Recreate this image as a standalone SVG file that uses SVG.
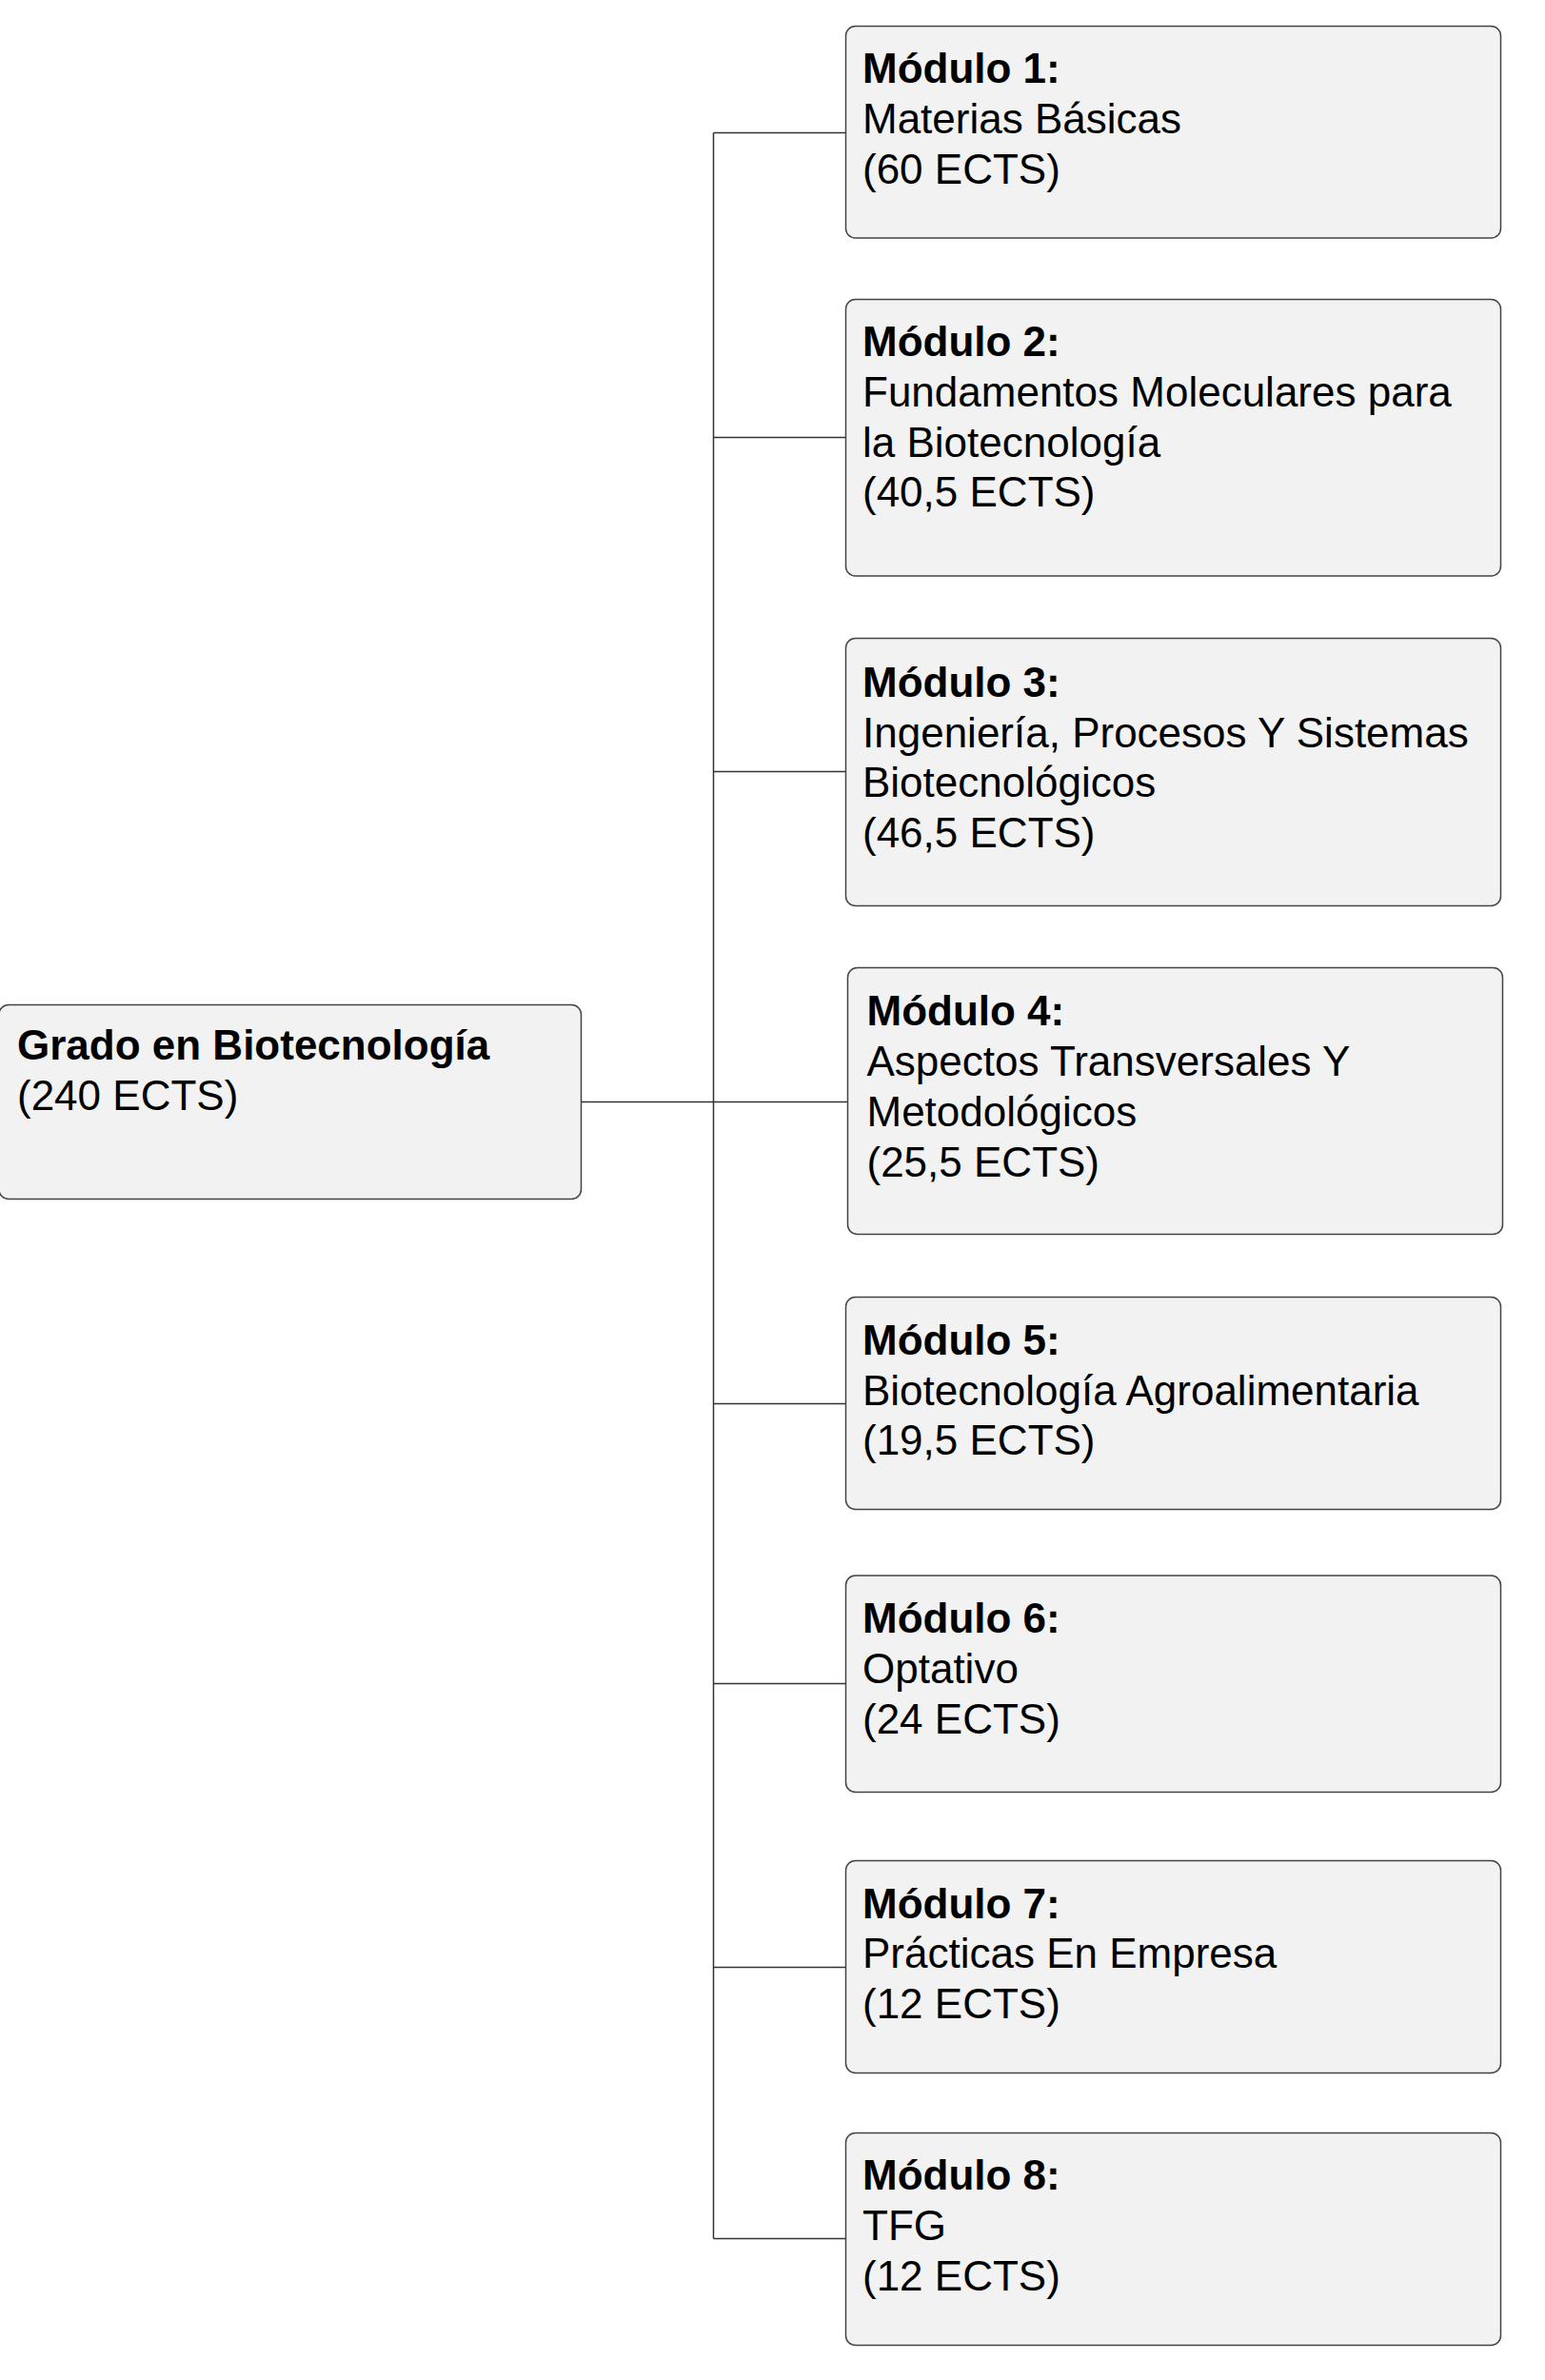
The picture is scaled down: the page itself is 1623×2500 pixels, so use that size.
<svg xmlns="http://www.w3.org/2000/svg" width="1623" height="2500" viewBox="0 0 1623 2500">
<style>
.box{fill:#f2f2f2;stroke:#444;stroke-width:1.5}
.t{font-family:"Liberation Sans",Arial,sans-serif;font-size:44px;fill:#000}
.b{font-weight:bold}
.c{fill:none;stroke:#333;stroke-width:1.5}
</style>
<rect width="1623" height="2500" fill="#fff"/>
<g id="connectors">
<path class="c" d="M749.5 139.5V2351.5M610.5 1157.5H890.5M749.5 139.5H888.5M749.5 459.5H888.5M749.5 810.5H888.5M749.5 1474.5H888.5M749.5 1768.5H888.5M749.5 2066.5H888.5M749.5 2351.5H888.5"/>
</g>
<g id="root">
<rect class="box" x="-1" y="1055.5" width="611.5" height="204" rx="10"/>
<text class="t" x="18" y="1113"><tspan class="b">Grado en Biotecnología</tspan><tspan x="18" dy="52.8">(240 ECTS)</tspan></text>
</g>
<g id="m1">
<rect class="box" x="888.5" y="27.5" width="688" height="222.5" rx="10"/>
<text class="t" x="906" y="87.3"><tspan class="b">Módulo 1:</tspan><tspan x="906" dy="52.8">Materias Básicas</tspan><tspan x="906" dy="52.8">(60 ECTS)</tspan></text>
</g>
<g id="m2">
<rect class="box" x="888.5" y="314.5" width="688" height="290.5" rx="10"/>
<text class="t" x="906" y="374"><tspan class="b">Módulo 2:</tspan><tspan x="906" dy="52.8">Fundamentos Moleculares para</tspan><tspan x="906" dy="52.8">la Biotecnología</tspan><tspan x="906" dy="52.8">(40,5 ECTS)</tspan></text>
</g>
<g id="m3">
<rect class="box" x="888.5" y="670.5" width="688" height="281" rx="10"/>
<text class="t" x="906" y="731.7"><tspan class="b">Módulo 3:</tspan><tspan x="906" dy="52.8">Ingeniería, Procesos Y Sistemas</tspan><tspan x="906" dy="52.8">Biotecnológicos</tspan><tspan x="906" dy="52.8">(46,5 ECTS)</tspan></text>
</g>
<g id="m4">
<rect class="box" x="890.5" y="1016.5" width="688" height="280" rx="10"/>
<text class="t" x="910.5" y="1077.3"><tspan class="b">Módulo 4:</tspan><tspan x="910.5" dy="52.8">Aspectos Transversales Y</tspan><tspan x="910.5" dy="52.8">Metodológicos</tspan><tspan x="910.5" dy="52.8">(25,5 ECTS)</tspan></text>
</g>
<g id="m5">
<rect class="box" x="888.5" y="1362.5" width="688" height="223" rx="10"/>
<text class="t" x="906" y="1422.7"><tspan class="b">Módulo 5:</tspan><tspan x="906" dy="52.8">Biotecnología Agroalimentaria</tspan><tspan x="906" dy="52.8">(19,5 ECTS)</tspan></text>
</g>
<g id="m6">
<rect class="box" x="888.5" y="1655" width="688" height="227.5" rx="10"/>
<text class="t" x="906" y="1715"><tspan class="b">Módulo 6:</tspan><tspan x="906" dy="52.8">Optativo</tspan><tspan x="906" dy="52.8">(24 ECTS)</tspan></text>
</g>
<g id="m7">
<rect class="box" x="888.5" y="1954.5" width="688" height="223" rx="10"/>
<text class="t" x="906" y="2014.5"><tspan class="b">Módulo 7:</tspan><tspan x="906" dy="52.8">Prácticas En Empresa</tspan><tspan x="906" dy="52.8">(12 ECTS)</tspan></text>
</g>
<g id="m8">
<rect class="box" x="888.5" y="2240.5" width="688" height="223" rx="10"/>
<text class="t" x="906" y="2300"><tspan class="b">Módulo 8:</tspan><tspan x="906" dy="52.8">TFG</tspan><tspan x="906" dy="52.8">(12 ECTS)</tspan></text>
</g>
</svg>
